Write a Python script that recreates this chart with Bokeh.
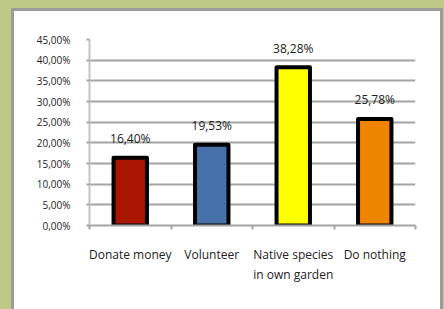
from bokeh.plotting import figure
from bokeh.models import Range1d, FixedTicker, ColumnDataSource, GlobalInlineStyleSheet
from bokeh.core.properties import value
from bokeh.embed import file_html
from bokeh.resources import INLINE

# ---- data ----
categories = ["Donate money", "Volunteer", "Native species\nin own garden", "Do nothing"]
values = [16.40, 19.53, 38.28, 25.78]
colors = ["#aa1500", "#4672a9", "#ffff00", "#ef8400"]
y_ticks = [0, 5, 10, 15, 20, 25, 30, 35, 40, 45]
y_tick_labels = ["0,00%", "5,00%", "10,00%", "15,00%", "20,00%", "25,00%",
                 "30,00%", "35,00%", "40,00%", "45,00%"]

FONT = "Open Sans"
GREEN = "#bdc985"

xs = [i + 0.5 for i in range(len(categories))]
bounds = [i for i in range(len(categories) + 1)]
labels = [f"{v:.2f}%".replace(".", ",") for v in values]

src = ColumnDataSource(dict(x=xs, top=values, color=colors, label=labels))

p = figure(width=432, height=301, output_backend="svg", toolbar_location=None,
           x_range=Range1d(0, len(categories)), y_range=Range1d(0, 45),
           min_border_left=78, min_border_right=28, min_border_top=31, min_border_bottom=84)

p.border_fill_color = None
p.background_fill_color = "white"
p.outline_line_color = None
p.styles = {"margin-left": "11px", "margin-top": "8px", "background-color": "white",
            "box-shadow": "inset 3px 3px 0 #9c9c9c, inset -3px 0 0 #9c9c9c"}
p.stylesheets = [GlobalInlineStyleSheet(css=f"body{{background-color:{GREEN};}}")]

p.vbar(x="x", top="top", width=0.41, bottom=0, source=src, fill_color="color",
       line_color="black", line_width=4, line_join="round")

p.text(x="x", y="top", text="label", source=src, text_align="center",
       text_baseline="middle", y_offset=-19, text_font=value(FONT),
       text_font_size="12px", text_color="#222222")

# grid
p.xgrid.grid_line_color = None
p.ygrid.ticker = FixedTicker(ticks=y_ticks)
p.ygrid.grid_line_color = "#a3a3a3"
p.ygrid.grid_line_width = 2

# y axis
p.yaxis.ticker = FixedTicker(ticks=y_ticks)
p.yaxis.major_label_overrides = {t: l for t, l in zip(y_ticks, y_tick_labels)}
p.yaxis.axis_line_color = "#c4c4c4"
p.yaxis.axis_line_width = 2
p.yaxis.major_tick_line_color = "#a3a3a3"
p.yaxis.major_tick_line_width = 2
p.yaxis.major_tick_out = 3
p.yaxis.major_tick_in = 0
p.yaxis.minor_tick_line_color = None
p.yaxis.major_label_standoff = 16
p.yaxis.major_label_text_font = FONT
p.yaxis.major_label_text_font_size = "10px"
p.yaxis.major_label_text_color = "#222222"

# x axis
p.xaxis.ticker = FixedTicker(ticks=xs, minor_ticks=bounds)
p.xaxis.major_label_overrides = {x: c for x, c in zip(xs, categories)}
p.xaxis.axis_line_color = "#a3a3a3"
p.xaxis.axis_line_width = 2
p.xaxis.major_tick_line_color = None
p.xaxis.major_tick_out = 0
p.xaxis.major_tick_in = 0
p.xaxis.minor_tick_line_color = "#a3a3a3"
p.xaxis.minor_tick_line_width = 2
p.xaxis.minor_tick_out = 4
p.xaxis.minor_tick_in = 0
p.xaxis.major_label_standoff = 16
p.xaxis.major_label_text_font = FONT
p.xaxis.major_label_text_font_size = "12px"
p.xaxis.major_label_text_color = "#222222"

open("out.html", "w").write(file_html(p, INLINE))
